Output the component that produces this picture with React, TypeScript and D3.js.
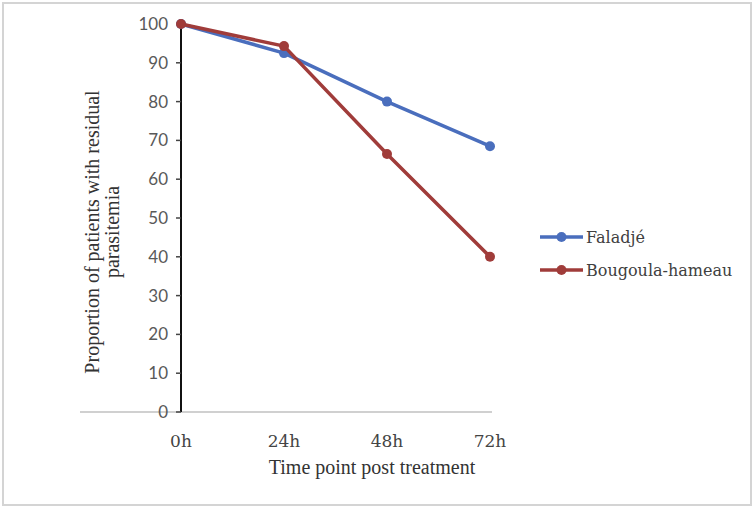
import React from 'react';
import * as d3 from 'd3';

const timePoints = ['0h', '24h', '48h', '72h'];
const faladje = [100, 92.5, 80, 68.5];
const bougoula = [100, 94.3, 66.5, 40];
const yTicks = [0, 10, 20, 30, 40, 50, 60, 70, 80, 90, 100];

const series = [
  { name: 'Faladjé', values: faladje, color: '#4a6ebd' },
  { name: 'Bougoula-hameau', values: bougoula, color: '#a03c3a' },
];

const WIDTH = 754;
const HEIGHT = 509;

const App = () => {
  const xScale = d3.scalePoint<string>()
    .domain(timePoints)
    .range([181, 490]);
  const yScale = d3.scaleLinear()
    .domain([0, 100])
    .range([412, 24]);

  const line = d3.line<number>()
    .x((_, i) => xScale(timePoints[i]) as number)
    .y(d => yScale(d));

  const x0 = xScale(timePoints[0]) as number;

  return (
    <svg
      width={WIDTH}
      height={HEIGHT}
      style={{ position: 'absolute', left: 0, top: 0 }}
    >
      <rect x={0} y={0} width={WIDTH} height={HEIGHT} fill="#fff" />
      <rect x={3} y={3} width={748} height={502} fill="none" stroke="#d4d4d4" strokeWidth={2} />

      {/* x axis line */}
      <line x1={80} x2={492} y1={yScale(0)} y2={yScale(0)} stroke="#d0d0d0" strokeWidth={2} />

      {/* y axis */}
      <line x1={x0} x2={x0} y1={yScale(100)} y2={yScale(0)} stroke="#111" strokeWidth={2} />
      {yTicks.map(t => (
        <g key={t} transform={`translate(0,${yScale(t)})`}>
          <line x1={x0 - 5} x2={x0} stroke="#444" strokeWidth={1.5} />
          <text
            x={x0 - 13}
            dy="0.35em"
            textAnchor="end"
            fontFamily="Lato, 'Open Sans', sans-serif"
            fontSize={17}
            fill="#595959"
          >
            {t}
          </text>
        </g>
      ))}

      {timePoints.map(tp => (
        <text
          key={tp}
          x={xScale(tp)}
          y={447}
          textAnchor="middle"
          fontFamily="'DejaVu Serif', serif"
          fontSize={17}
          fill="#444"
        >
          {tp}
        </text>
      ))}

      {series.map(s => (
        <g key={s.name}>
          <path d={line(s.values) ?? ''} fill="none" stroke={s.color} strokeWidth={3.5} strokeLinejoin="round" />
          {s.values.map((v, i) => (
            <circle key={i} cx={xScale(timePoints[i])} cy={yScale(v)} r={5} fill={s.color} />
          ))}
        </g>
      ))}

      {/* axis titles */}
      <text
        x={372}
        y={474}
        textAnchor="middle"
        fontFamily="'Liberation Serif', serif"
        fontSize={20}
        fill="#333"
      >
        Time point post treatment
      </text>
      <g transform="translate(99,232) rotate(-90)">
        <text textAnchor="middle" fontFamily="'Liberation Serif', serif" fontSize={20} fill="#333">
          <tspan x={0} y={0}>Proportion of patients with residual</tspan>
          <tspan x={0} y={20}>parasitemia</tspan>
        </text>
      </g>

      {/* legend */}
      {series.map((s, i) => (
        <g key={s.name} transform={`translate(540,${237 + i * 33})`}>
          <line x1={0} x2={43} stroke={s.color} strokeWidth={3.5} />
          <circle cx={21.5} cy={0} r={5} fill={s.color} />
          <text
            x={46}
            dy="0.35em"
            fontFamily="'DejaVu Serif', serif"
            fontSize={16}
            fill="#404040"
          >
            {s.name}
          </text>
        </g>
      ))}
    </svg>
  );
};

export default App;
